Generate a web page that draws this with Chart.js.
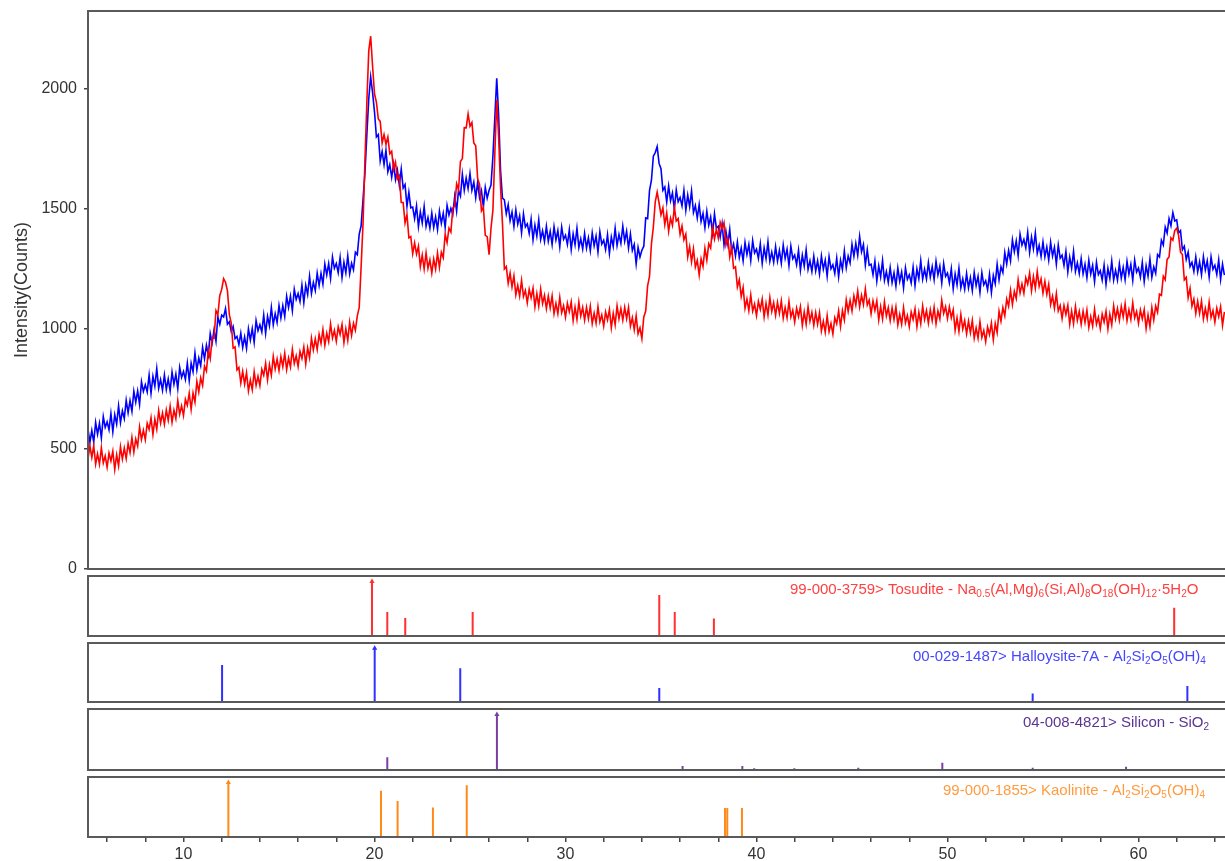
<!DOCTYPE html>
<html>
<head>
<meta charset="utf-8">
<title>XRD pattern</title>
<script src="https://cdn.jsdelivr.net/npm/chart.js@4.4.0/dist/chart.umd.min.js"></script>
<style>
  html, body { margin: 0; padding: 0; background: #fff; }
  #wrap { position: relative; width: 1225px; height: 861px; overflow: hidden; }
  #wrap canvas { position: absolute; left: 0; }
</style>
</head>
<body>
<div id="wrap">
  <canvas id="mainChart" width="1225" height="580" style="top:0px"></canvas>
  <canvas id="tosuditeChart" width="1225" height="66" style="top:573px"></canvas>
  <canvas id="halloysiteChart" width="1225" height="65" style="top:640px"></canvas>
  <canvas id="siliconChart" width="1225" height="67" style="top:706px"></canvas>
  <canvas id="kaoliniteChart" width="1225" height="87" style="top:774px"></canvas>
</div>
<script>
// scan grid: 2-theta from 5.0 in steps of 0.1 deg (one row = 1 deg)
const angleStart = 5.0;
const angleStep = 0.1;

// measured intensities (counts)
const blueCounts = [
  583,528,577,529,611,562,607,546,635,590,
  613,580,648,572,643,604,680,610,659,627,
  703,651,702,657,741,695,742,686,780,740,
  768,738,808,732,803,762,835,753,789,745,
  808,748,792,742,821,770,812,751,840,798,
  823,790,858,785,858,822,900,830,879,847,
  923,876,932,892,981,942,997,949,1050,1020,
  1058,1050,1085,1020,1030,990,1010,960,969,935,
  983,923,967,919,1001,954,1002,944,1035,993,
  1018,988,1058,982,1053,1014,1090,1018,1064,1027,
  1098,1046,1097,1052,1136,1090,1137,1076,1165,1123,
  1148,1115,1183,1110,1183,1144,1220,1148,1194,1160,
  1233,1181,1232,1187,1271,1225,1272,1211,1300,1253,
  1273,1235,1298,1215,1278,1234,1305,1230,1274,1247,
  1320,1310,1395,1430,1540,1650,1810,1960,2050,1985,
  1905,1800,1810,1700,1740,1685,1745,1655,1685,1632,
  1688,1623,1662,1599,1666,1587,1602,1511,1570,1505,
  1508,1460,1513,1427,1488,1442,1510,1428,1464,1420,
  1483,1423,1467,1414,1491,1440,1482,1424,1515,1475,
  1503,1478,1553,1492,1578,1554,1645,1578,1629,1585,
  1648,1578,1612,1547,1611,1547,1577,1509,1590,1545,
  1578,1600,1720,1880,2045,1890,1660,1545,1538,1480,
  1518,1451,1487,1427,1496,1437,1472,1401,1480,1425,
  1438,1398,1458,1372,1433,1387,1455,1373,1409,1365,
  1428,1366,1407,1352,1426,1371,1410,1343,1425,1374,
  1391,1352,1413,1331,1396,1351,1420,1339,1376,1333,
  1398,1337,1380,1326,1401,1347,1387,1321,1405,1354,
  1370,1331,1393,1315,1383,1344,1420,1348,1394,1357,
  1428,1366,1407,1337,1396,1327,1352,1271,1340,1300,
  1328,1345,1463,1460,1578,1620,1720,1735,1760,1690,
  1668,1578,1592,1529,1596,1535,1567,1499,1580,1530,
  1548,1513,1578,1495,1558,1509,1575,1485,1514,1462,
  1518,1448,1482,1422,1491,1432,1467,1399,1480,1420,
  1428,1383,1438,1350,1408,1354,1415,1325,1354,1305,
  1363,1298,1337,1284,1361,1310,1352,1285,1368,1317,
  1333,1294,1355,1273,1338,1293,1363,1282,1320,1278,
  1343,1283,1327,1274,1350,1294,1332,1264,1345,1293,
  1308,1268,1328,1245,1308,1262,1330,1248,1284,1240,
  1303,1242,1284,1229,1304,1249,1287,1220,1302,1251,
  1268,1231,1295,1217,1286,1248,1325,1255,1304,1275,
  1353,1303,1357,1307,1386,1322,1352,1266,1330,1266,
  1270,1226,1283,1200,1263,1217,1285,1203,1239,1194,
  1256,1193,1234,1179,1254,1199,1238,1172,1255,1207,
  1226,1192,1258,1181,1250,1210,1285,1208,1249,1209,
  1276,1216,1260,1206,1282,1225,1262,1192,1272,1219,
  1233,1192,1251,1167,1230,1184,1253,1172,1209,1166,
  1231,1171,1214,1160,1236,1181,1220,1153,1235,1184,
  1201,1164,1228,1152,1223,1189,1270,1205,1259,1235,
  1318,1271,1327,1284,1371,1322,1367,1306,1395,1350,
  1373,1338,1403,1320,1383,1334,1400,1315,1349,1302,
  1363,1301,1342,1287,1361,1304,1340,1270,1350,1295,
  1308,1265,1323,1238,1300,1254,1323,1240,1276,1231,
  1293,1230,1270,1213,1286,1229,1265,1197,1278,1227,
  1243,1204,1266,1186,1253,1211,1283,1204,1244,1204,
  1271,1212,1257,1205,1282,1229,1269,1203,1287,1237,
  1254,1216,1278,1197,1263,1220,1292,1215,1259,1232,
  1310,1300,1370,1350,1425,1400,1460,1430,1485,1450,
  1455,1400,1410,1330,1345,1290,1320,1260,1278,1240,
  1300,1238,1280,1226,1301,1246,1284,1217,1300,1249,
  1266,1227,1288,1206,1270,1225
];

const redCounts = [
  460,512,465,513,437,480,437,505,442,471,
  424,483,450,491,415,476,430,509,458,504,
  460,523,485,548,487,542,512,592,540,578,
  539,607,582,630,560,624,582,660,608,650,
  603,662,620,678,612,662,627,702,645,680,
  639,707,682,733,665,733,695,782,738,796,
  765,845,825,913,877,962,962,1077,1060,1140,
  1165,1210,1195,1160,1060,1025,920,925,830,840,
  775,823,770,818,742,787,747,822,765,803,
  764,832,807,857,788,851,808,886,833,875,
  827,885,843,899,831,879,842,915,856,888,
  844,907,877,925,855,921,880,962,913,959,
  915,978,940,998,932,982,947,1021,962,994,
  949,1009,977,1019,943,1001,953,1028,973,1024,
  995,1055,1090,1260,1440,1700,1945,2160,2220,2095,
  1980,1945,1875,1865,1775,1810,1770,1800,1730,1740,
  1665,1695,1625,1638,1527,1527,1442,1477,1380,1385,
  1314,1359,1312,1345,1260,1308,1250,1317,1253,1288,
  1233,1292,1250,1316,1257,1320,1297,1395,1360,1420,
  1404,1504,1512,1605,1580,1698,1710,1839,1838,1896,
  1845,1860,1775,1763,1627,1602,1492,1507,1390,1385,
  1310,1420,1495,1730,1955,1800,1590,1440,1250,1260,
  1190,1233,1175,1221,1142,1182,1137,1202,1135,1160,
  1109,1166,1130,1170,1092,1147,1095,1166,1106,1140,
  1085,1137,1088,1138,1064,1107,1064,1132,1068,1097,
  1049,1107,1072,1113,1035,1091,1040,1112,1054,1090,
  1037,1090,1043,1095,1022,1066,1024,1093,1030,1059,
  1012,1071,1038,1081,1005,1065,1018,1096,1043,1085,
  1037,1090,1043,1090,1012,1047,997,1055,980,1005,
  960,1050,1075,1180,1220,1355,1425,1530,1570,1525,
  1475,1505,1435,1483,1407,1462,1432,1507,1450,1460,
  1394,1429,1372,1395,1300,1343,1280,1334,1258,1286,
  1225,1293,1260,1336,1287,1355,1337,1422,1375,1415,
  1379,1444,1417,1443,1350,1378,1300,1342,1253,1259,
  1175,1205,1135,1173,1087,1125,1077,1142,1075,1104,
  1056,1115,1082,1125,1050,1107,1058,1131,1073,1110,
  1057,1111,1065,1117,1045,1089,1047,1115,1050,1078,
  1029,1087,1052,1093,1015,1071,1020,1092,1033,1069,
  1015,1068,1020,1068,992,1032,987,1055,990,1023,
  979,1047,1022,1075,1010,1077,1038,1121,1073,1119,
  1075,1138,1100,1158,1092,1140,1102,1167,1100,1120,
  1064,1117,1077,1117,1038,1093,1042,1113,1054,1089,
  1035,1088,1040,1091,1017,1061,1020,1089,1026,1056,
  1010,1071,1040,1084,1010,1069,1022,1096,1040,1077,
  1025,1080,1035,1091,1022,1075,1042,1120,1065,1093,
  1044,1092,1047,1080,995,1046,990,1060,1000,1035,
  980,1033,985,1036,962,1005,962,1030,965,994,
  947,1008,977,1025,955,1023,985,1074,1033,1089,
  1055,1125,1095,1161,1102,1157,1127,1205,1150,1188,
  1149,1214,1187,1233,1160,1218,1170,1239,1178,1209,
  1150,1198,1145,1186,1102,1137,1087,1147,1075,1098,
  1044,1098,1060,1099,1020,1074,1022,1094,1036,1073,
  1020,1074,1027,1079,1007,1052,1012,1082,1020,1049,
  1002,1062,1029,1074,1000,1062,1018,1096,1043,1085,
  1037,1094,1051,1105,1035,1080,1040,1109,1046,1073,
  1024,1079,1042,1081,1002,1059,1010,1089,1038,1096,
  1070,1145,1140,1220,1205,1290,1300,1380,1370,1410,
  1420,1390,1320,1310,1205,1215,1130,1170,1095,1125,
  1065,1115,1065,1116,1042,1086,1044,1112,1048,1077,
  1029,1087,1052,1093,1015,1071
];

// reference patterns: peak positions (2-theta) and relative intensity (%)
const tosuditePos = [19.87, 20.67, 21.61, 25.14, 34.91, 35.72, 37.77, 61.87];
const tosuditeInt = [100, 44, 33, 44, 75, 44, 32, 52];
const halloysitePos = [12.02, 20.01, 24.49, 34.91, 54.46, 62.56];
const halloysiteInt = [69, 100, 63, 26, 16, 30];
const siliconPos = [20.67, 26.41, 36.13, 39.26, 39.88, 41.98, 45.33, 49.73, 54.46, 59.35];
const siliconInt = [23, 100, 7, 7, 3, 3, 4, 13, 4, 6];
const kaolinitePos = [12.35, 20.34, 21.21, 23.06, 24.83, 38.35, 38.47, 39.24];
const kaoliniteInt = [100, 85, 66, 54, 95, 53, 53, 53];

const yTickValues = [0, 500, 1000, 1500, 2000];
const xTickValues = [6,8,10,12,14,16,18,20,22,24,26,28,30,32,34,36,38,40,42,44,46,48,50,52,54,56,58,60,62,64];

const X_MIN = 5;
const X_MAX = 64.53;
const Y_MAX = 2325;
const FONT = '"Liberation Sans", Arial, sans-serif';

const toPoints = arr => arr.map((v, i) => ({ x: +(angleStart + i * angleStep).toFixed(2), y: v }));

function stickData(pos, inten) {
    const pts = [];
    pos.forEach((p, i) => {
        pts.push({ x: p, y: 0 }, { x: p, y: inten[i] }, { x: p, y: null });
    });
    return pts;
}

// box lines: left, top, bottom (right side runs off the picture)
const framePlugin = {
    id: 'frame',
    afterDraw(chart) {
        const { ctx, chartArea: a } = chart;
        ctx.save();
        ctx.strokeStyle = '#5a5a5a';
        ctx.lineWidth = 2;
        ctx.beginPath();
        ctx.moveTo(chart.width + 2, a.top);
        ctx.lineTo(a.left, a.top);
        ctx.lineTo(a.left, a.bottom);
        ctx.lineTo(chart.width + 2, a.bottom);
        ctx.stroke();
        ctx.restore();
    }
};

// phase caption with _{..} subscripts
const labelPlugin = {
    id: 'phaseLabel',
    afterDraw(chart, args, opts) {
        if (!opts || !opts.text) return;
        const ctx = chart.ctx;
        let x = opts.x;
        const y = chart.chartArea.top + 18;
        ctx.save();
        ctx.fillStyle = opts.color;
        ctx.textBaseline = 'alphabetic';
        ctx.textAlign = 'left';
        opts.text.split(/(_\{[^}]*\})/).forEach(part => {
            if (!part) return;
            const sub = part.startsWith('_{');
            const s = sub ? part.slice(2, -1) : part;
            ctx.font = (sub ? '10px ' : '15px ') + FONT;
            ctx.fillText(s, x, sub ? y + 3 : y);
            x += ctx.measureText(s).width;
        });
        ctx.restore();
    }
};

new Chart(document.getElementById('mainChart'), {
    type: 'line',
    data: {
        datasets: [
            { label: 'Sample 2', data: toPoints(redCounts), borderColor: '#ff0000', borderWidth: 1.6, pointRadius: 0, tension: 0 },
            { label: 'Sample 1', data: toPoints(blueCounts), borderColor: '#0000ff', borderWidth: 1.6, pointRadius: 0, tension: 0 }
        ]
    },
    options: {
        responsive: false,
        devicePixelRatio: 1,
        animation: false,
        layout: { padding: { top: 11, bottom: 11, left: 0, right: 0 } },
        plugins: { legend: { display: false }, tooltip: { enabled: false } },
        scales: {
            x: { type: 'linear', min: X_MIN, max: X_MAX, display: false },
            y: {
                min: 0, max: Y_MAX,
                afterBuildTicks: s => { s.ticks = yTickValues.map(v => ({ value: v })); },
                afterFit: s => { s.width = 88; s.paddingTop = 0; s.paddingBottom = 0; },
                grid: { drawOnChartArea: false, drawTicks: true, tickLength: 4, color: '#444', lineWidth: 1.5 },
                border: { display: false },
                ticks: { padding: 7, color: '#333', font: { size: 16, family: FONT }, callback: v => String(v) },
                title: { display: true, text: 'Intensity(Counts)', color: '#333', font: { size: 18, family: FONT }, padding: { top: 11, bottom: 0 } }
            }
        }
    },
    plugins: [framePlugin]
});

function makeStickChart(id, pos, inten, color, caption, captionColor, captionX, showAxis) {
    new Chart(document.getElementById(id), {
        type: 'line',
        data: {
            datasets: [{
                data: stickData(pos, inten),
                borderColor: color,
                borderWidth: 2,
                spanGaps: false,
                pointStyle: 'triangle',
                pointBackgroundColor: color,
                pointBorderColor: color,
                pointBorderWidth: 0,
                pointRadius: c => (c.raw && c.raw.y === 100 ? 3 : 0)
            }]
        },
        options: {
            responsive: false,
            devicePixelRatio: 1,
            animation: false,
            layout: { padding: { top: 3, bottom: showAxis ? 0 : 3, left: 88, right: 0 } },
            plugins: {
                legend: { display: false },
                tooltip: { enabled: false },
                phaseLabel: { text: caption, color: captionColor, x: captionX }
            },
            scales: {
                x: showAxis ? {
                    type: 'linear', min: X_MIN, max: X_MAX,
                    afterBuildTicks: s => { s.ticks = xTickValues.map(v => ({ value: v })); },
                    afterFit: s => { s.height = 24; },
                    grid: { drawOnChartArea: false, drawTicks: true, tickLength: 5, color: '#444', lineWidth: 1.5 },
                    border: { display: false },
                    ticks: {
                        autoSkip: false, maxRotation: 0, padding: 3, color: '#333',
                        font: { size: 16, family: FONT },
                        callback: v => (v % 10 === 0 ? String(v) : '')
                    }
                } : { type: 'linear', min: X_MIN, max: X_MAX, display: false },
                y: { min: 0, max: 110, display: false }
            }
        },
        plugins: [framePlugin, labelPlugin]
    });
}

makeStickChart('tosuditeChart', tosuditePos, tosuditeInt, '#ff3030',
    '99-000-3759> Tosudite - Na_{0.5}(Al,Mg)_{6}(Si,Al)_{8}O_{18}(OH)_{12}·5H_{2}O', '#ff4040', 790, false);
makeStickChart('halloysiteChart', halloysitePos, halloysiteInt, '#3030ff',
    '00-029-1487> Halloysite-7A - Al_{2}Si_{2}O_{5}(OH)_{4}', '#4646ff', 913, false);
makeStickChart('siliconChart', siliconPos, siliconInt, '#7a3fa5',
    '04-008-4821> Silicon - SiO_{2}', '#5b3494', 1023, false);
makeStickChart('kaoliniteChart', kaolinitePos, kaoliniteInt, '#ff8a1a',
    '99-000-1855> Kaolinite - Al_{2}Si_{2}O_{5}(OH)_{4}', '#ff9c40', 943, true);
</script>
</body>
</html>
